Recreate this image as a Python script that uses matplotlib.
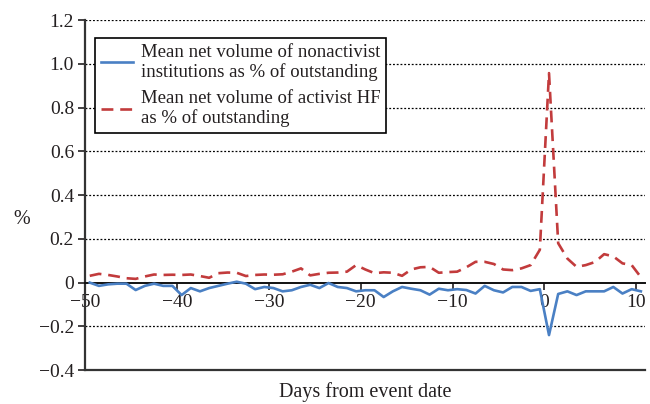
import matplotlib
matplotlib.use("Agg")
import matplotlib.pyplot as plt
import numpy as np

# days from event date (-50 .. 10), plotted centred between tick marks
days = list(range(-50, 11))

nonactivist = [
    0.0, -0.015, -0.008, -0.005, -0.005, -0.034, -0.015, -0.005, -0.015, -0.015,
    -0.057, -0.025, -0.04, -0.025, -0.015, -0.005, 0.004, -0.005, -0.03, -0.02,
    -0.025, -0.04, -0.035, -0.02, -0.01, -0.025, -0.002, -0.02, -0.025, -0.04,
    -0.035, -0.035, -0.066, -0.04, -0.02, -0.028, -0.035, -0.055, -0.028, -0.035,
    -0.03, -0.034, -0.05, -0.015, -0.035, -0.045, -0.02, -0.02, -0.038, -0.03,
    -0.24, -0.052, -0.04, -0.057, -0.04, -0.04, -0.04, -0.02, -0.05, -0.03,
    -0.04,
]

activist = [
    0.031, 0.04, 0.035, 0.028, 0.02, 0.017, 0.028, 0.037, 0.035, 0.036,
    0.035, 0.037, 0.03, 0.022, 0.043, 0.046, 0.045, 0.03, 0.035, 0.037,
    0.036, 0.038, 0.05, 0.065, 0.033, 0.04, 0.045, 0.046, 0.05, 0.08,
    0.06, 0.043, 0.047, 0.045, 0.031, 0.06, 0.07, 0.072, 0.045, 0.048,
    0.05, 0.07, 0.095, 0.095, 0.085, 0.06, 0.057, 0.065, 0.08, 0.15,
    0.958, 0.18, 0.11, 0.072, 0.08, 0.094, 0.13, 0.12, 0.088, 0.08,
    0.025,
]

xticks = [-50, -40, -30, -20, -10, 0, 10]
yticks = [-0.4, -0.2, 0, 0.2, 0.4, 0.6, 0.8, 1.0, 1.2]

plt.rcParams["font.family"] = ["Liberation Serif", "DejaVu Serif"]
plt.rcParams["axes.unicode_minus"] = True

blue = "#4a80c4"
red = "#c23b3c"
txt = "#231f20"

fig = plt.figure(figsize=(6.5, 4.04), dpi=100)
ax = fig.add_axes([0.131, 0.084, 0.862, 0.866])

x = np.array(days) + 0.5
ax.plot(x, nonactivist, color=blue, lw=1.9, zorder=5,
        label="Mean net volume of nonactivist\ninstitutions as % of outstanding")
ax.plot(x, activist, color=red, lw=1.9, linestyle=(0, (4.5, 2.6)), zorder=5,
        label="Mean net volume of activist HF\nas % of outstanding")

ax.set_xlim(-50, 11)
ax.set_ylim(-0.4, 1.2)

# dotted gridlines
for v in yticks:
    if v in (0, -0.4):
        continue
    ax.axhline(v, color="black", lw=0.9, linestyle=(0, (1.5, 1.5)), zorder=1)
ax.axhline(-0.4, color="#333333", lw=1.6, zorder=2, clip_on=False)

ax.spines["top"].set_visible(False)
ax.spines["right"].set_visible(False)
ax.spines["left"].set_color("#333333")
ax.spines["left"].set_linewidth(1.6)
ax.spines["bottom"].set_position(("data", 0))
ax.spines["bottom"].set_color("#111111")
ax.spines["bottom"].set_linewidth(1.4)

ax.set_xticks(xticks)
ax.set_xticklabels([f"{t}".replace("-", "\u2212") for t in xticks])
ax.set_yticks(yticks)
ax.set_yticklabels([f"{t:.1f}".replace("-", "\u2212") if t != 0 else "0" for t in yticks])
ax.tick_params(axis="x", direction="out", length=5, width=1.2, labelsize=14,
               colors=txt, pad=3)
ax.tick_params(axis="y", direction="out", length=5, width=1.2, labelsize=14,
               colors=txt, pad=3)

ax.set_xlabel("Days from event date", fontsize=14.5, color=txt, labelpad=0)
ax.xaxis.set_label_coords(0.5, -0.035)
ax.text(-0.113, 0.43, "%", transform=ax.transAxes, fontsize=14.5, color=txt,
        ha="center", va="center")

leg = ax.legend(loc="upper left", bbox_to_anchor=(0.018, 0.949), fontsize=13.5,
                frameon=True, fancybox=False, edgecolor="black", framealpha=1,
                handlelength=1.7, handletextpad=0.45, borderpad=0.3,
                labelspacing=0.45, borderaxespad=0)
leg.get_frame().set_linewidth(1.2)
leg.set_zorder(10)
for t in leg.get_texts():
    t.set_color(txt)

fig.savefig("out.png", dpi=100)
